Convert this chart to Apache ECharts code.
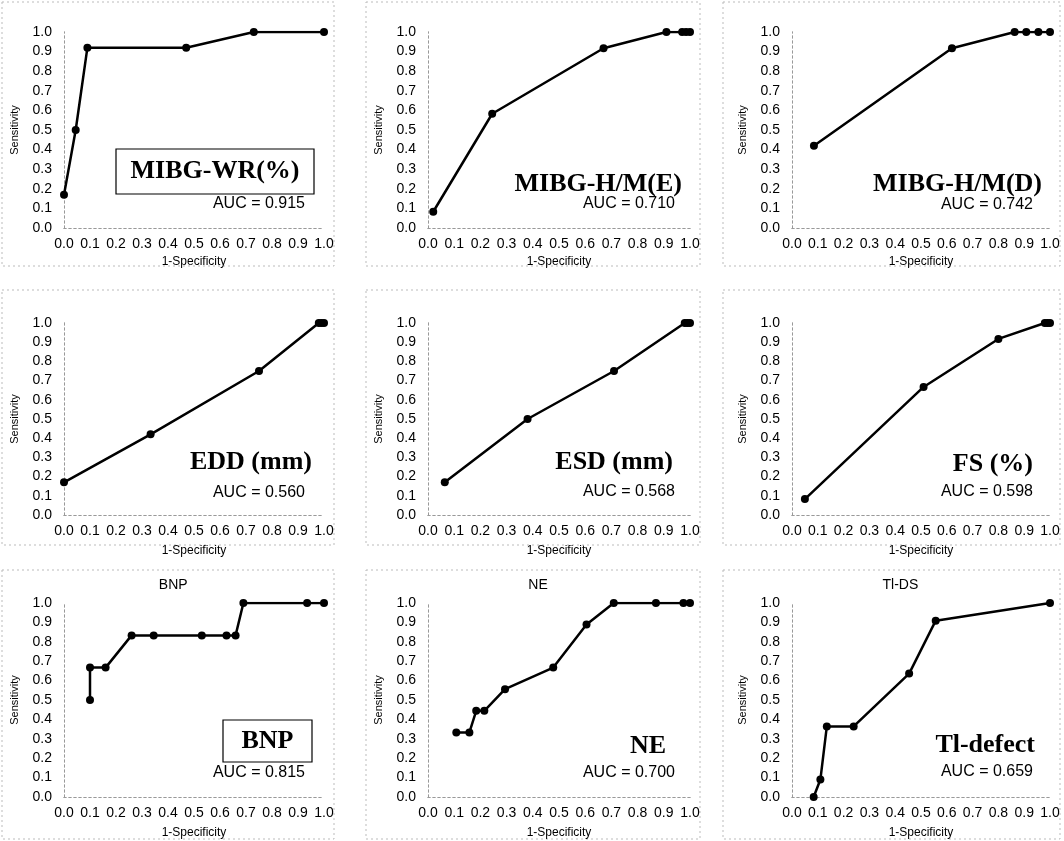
<!DOCTYPE html>
<html>
<head>
<meta charset="utf-8">
<title>ROC curves</title>
<script src="https://cdn.jsdelivr.net/npm/echarts@6/dist/echarts.min.js"></script>
<style>
  html, body { margin: 0; padding: 0; background: #fff; }
  #main { width: 1064px; height: 841px; }
</style>
</head>
<body>
<div id="main"></div>
<script>
// ROC points: [1-Specificity, Sensitivity]
var mibgWr  = [[0, 0.17], [0.045, 0.5], [0.09, 0.92], [0.47, 0.92], [0.73, 1], [1, 1]];
var mibgHmE = [[0.02, 0.083], [0.245, 0.583], [0.67, 0.917], [0.91, 1], [0.97, 1], [0.985, 1], [1, 1]];
var mibgHmD = [[0.085, 0.42], [0.62, 0.917], [0.863, 1], [0.908, 1], [0.955, 1], [1, 1]];
var edd     = [[0, 0.17], [0.333, 0.42], [0.75, 0.75], [0.98, 1], [0.99, 1], [1, 1]];
var esd     = [[0.064, 0.17], [0.38, 0.5], [0.71, 0.75], [0.98, 1], [0.99, 1], [1, 1]];
var fs      = [[0.05, 0.083], [0.51, 0.667], [0.8, 0.917], [0.98, 1], [0.99, 1], [1, 1]];
var bnp     = [[0.1, 0.5], [0.1, 0.667], [0.16, 0.667], [0.26, 0.833], [0.345, 0.833], [0.53, 0.833],
               [0.625, 0.833], [0.66, 0.833], [0.69, 1], [0.935, 1], [1, 1]];
var ne      = [[0.108, 0.333], [0.158, 0.333], [0.184, 0.444], [0.215, 0.444], [0.294, 0.556],
               [0.478, 0.667], [0.605, 0.889], [0.709, 1], [0.87, 1], [0.975, 1], [1, 1]];
var tlDs    = [[0.084, 0], [0.11, 0.09], [0.135, 0.364], [0.239, 0.364], [0.454, 0.636], [0.557, 0.909], [1, 1]];

var curves      = [mibgWr, mibgHmE, mibgHmD, edd, esd, fs, bnp, ne, tlDs];
var markerNames = ['MIBG-WR(%)', 'MIBG-H/M(E)', 'MIBG-H/M(D)', 'EDD (mm)', 'ESD (mm)', 'FS (%)', 'BNP', 'NE', 'Tl-defect'];
var aucValues   = ['0.915', '0.710', '0.742', '0.560', '0.568', '0.598', '0.815', '0.700', '0.659'];
var panelTitles = ['', '', '', '', '', '', 'BNP', 'NE', 'Tl-DS'];
var boxed       = [true, false, false, false, false, false, true, false, false];

// layout
var colLeft = [64, 428, 792], colWidth = [260, 262, 258];
var rowTop = [32, 323, 603], rowHeight = [196, 192, 194];
var nameGapX = [28, 30, 30];
// [right x, center y] for big marker name, then AUC line
var namePos = [[314, 172], [682, 184], [1042, 184], [312, 462], [673, 462], [1033, 464], [312, 741], [666, 746], [1035, 745]];
var aucPos  = [[305, 204], [675, 204], [1033, 205], [305, 493], [675, 492], [1033, 492], [305, 773], [675, 773], [1033, 772]];
var boxRect = [[116, 149, 198, 45], null, null, null, null, null, [223, 720, 89, 42], null, null];
var frameX = [[2, 334], [366, 700], [723, 1060]];
var frameY = [[2, 266], [290, 545], [570, 839]];

var dotted = { color: '#999', type: [2, 3], width: 1 };
var grids = [], xAxes = [], yAxes = [], series = [], graphics = [];

curves.forEach(function (pts, i) {
  var c = i % 3, r = Math.floor(i / 3);
  grids.push({ left: colLeft[c], top: rowTop[r], width: colWidth[c], height: rowHeight[r] });

  xAxes.push({
    gridIndex: i, type: 'value', min: 0, max: 1, interval: 0.1,
    name: '1-Specificity', nameLocation: 'middle', nameGap: nameGapX[r],
    nameTextStyle: { fontFamily: 'Liberation Sans', fontSize: 12, color: '#000' },
    axisLine: { lineStyle: dotted }, axisTick: { show: false }, splitLine: { show: false },
    axisLabel: { margin: 9, fontFamily: 'Liberation Sans', fontSize: 14, color: '#000',
                 formatter: function (v) { return v.toFixed(1); } }
  });
  xAxes.push({
    gridIndex: i, type: 'value', min: 0, max: 1, position: 'top',
    axisLine: { lineStyle: dotted }, axisTick: { show: false }, axisLabel: { show: false }, splitLine: { show: false }
  });
  yAxes.push({
    gridIndex: i, type: 'value', min: 0, max: 1, interval: 0.1,
    name: 'Sensitivity', nameLocation: 'middle', nameGap: 44,
    nameTextStyle: { fontFamily: 'Liberation Sans', fontSize: 11, color: '#000' },
    axisLine: { show: true, lineStyle: dotted }, axisTick: { show: false }, splitLine: { show: false },
    axisLabel: { margin: 12, fontFamily: 'Liberation Sans', fontSize: 14, color: '#000',
                 formatter: function (v) { return v.toFixed(1); } }
  });
  yAxes.push({
    gridIndex: i, type: 'value', min: 0, max: 1, position: 'right',
    axisLine: { show: true, lineStyle: dotted }, axisTick: { show: false }, axisLabel: { show: false }, splitLine: { show: false }
  });

  series.push({
    type: 'line', xAxisIndex: 2 * i, yAxisIndex: 2 * i, data: pts,
    symbol: 'circle', symbolSize: 8, animation: false,
    lineStyle: { color: '#000', width: 2.5 }, itemStyle: { color: '#000' }
  });

  // panel frame
  graphics.push({
    type: 'rect', silent: true,
    shape: { x: frameX[c][0], y: frameY[r][0], width: frameX[c][1] - frameX[c][0], height: frameY[r][1] - frameY[r][0] },
    style: { fill: null, stroke: '#bbb', lineWidth: 1, lineDash: [2, 3] }
  });

  if (boxed[i]) {
    var b = boxRect[i];
    graphics.push({ type: 'rect', shape: { x: b[0], y: b[1], width: b[2], height: b[3] },
      style: { fill: '#fff', stroke: '#000', lineWidth: 1.2 } });
    graphics.push({ type: 'text', x: b[0] + b[2] / 2, y: b[1] + b[3] / 2,
      style: { text: markerNames[i], fontFamily: 'Liberation Serif', fontWeight: 'bold', fontSize: 26,
               fill: '#000', align: 'center', verticalAlign: 'middle' } });
  } else {
    graphics.push({ type: 'text', x: namePos[i][0], y: namePos[i][1],
      style: { text: markerNames[i], fontFamily: 'Liberation Serif', fontWeight: 'bold', fontSize: 26,
               fill: '#000', align: 'right', verticalAlign: 'middle' } });
  }
  graphics.push({ type: 'text', x: aucPos[i][0], y: aucPos[i][1],
    style: { text: 'AUC = ' + aucValues[i], fontFamily: 'Liberation Sans', fontSize: 16,
             fill: '#000', align: 'right', verticalAlign: 'middle' } });

  if (panelTitles[i]) {
    graphics.push({ type: 'text', x: colLeft[c] + colWidth[c] * 0.42, y: rowTop[r] - 18,
      style: { text: panelTitles[i], fontFamily: 'Liberation Sans', fontSize: 14,
               fill: '#000', align: 'center', verticalAlign: 'middle' } });
  }
});

var myChart = echarts.init(document.getElementById('main'));
myChart.setOption({
  backgroundColor: '#fff',
  animation: false,
  grid: grids,
  xAxis: xAxes,
  yAxis: yAxes,
  series: series,
  graphic: graphics
});
</script>
</body>
</html>
